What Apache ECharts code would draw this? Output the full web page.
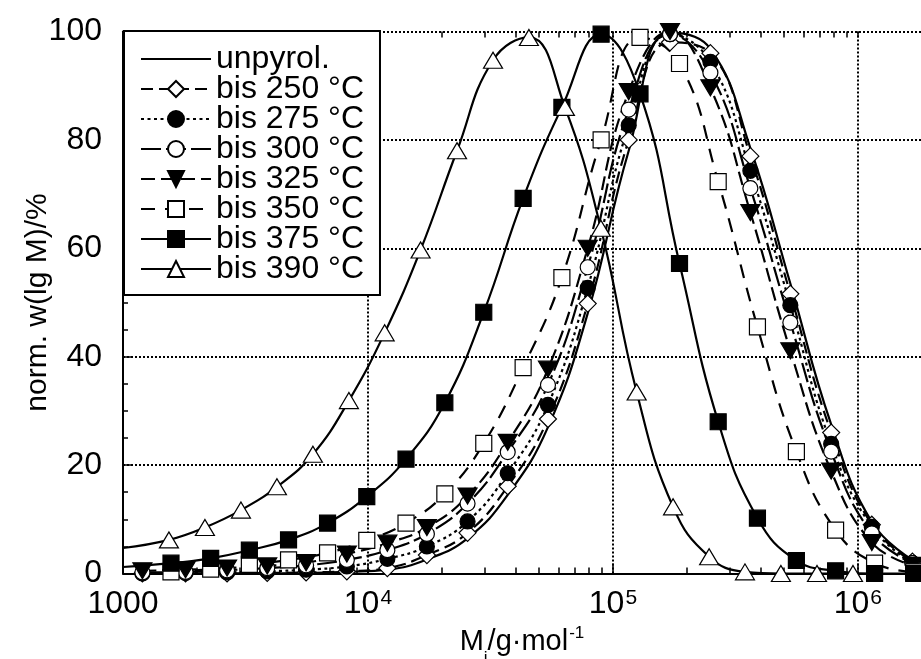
<!DOCTYPE html>
<html>
<head>
<meta charset="utf-8">
<script src="https://cdn.jsdelivr.net/npm/echarts@6/dist/echarts.min.js"></script>
<style>
  html, body { margin: 0; padding: 0; background: #fff; }
  #chart { width: 921px; height: 659px; }
</style>
</head>
<body>
<div id="chart"></div>
<script>
// Molar masses (g/mol) at which each distribution was sampled
const massGridA = [1540, 2160, 3030, 4250, 5960, 8360, 11700, 16400, 23100, 32400, 45400, 63700, 89300, 125000, 176000, 247000, 346000, 485000, 681000, 955000];
const massGridB = [1570, 2280, 3280, 4740, 6840, 9890, 14300, 20600, 29700, 43000, 61900, 89500, 129000, 187000, 269000, 389000, 561000, 811000, 1170000, 1690000];
const massGridC = [1200, 1800, 2660, 3880, 5590, 8200, 12000, 17400, 25500, 37200, 54300, 78900, 116000, 171000, 250000, 364000, 530000, 778000, 1140000, 1670000];

// Normalised distributions w(lg M) in %
const wUnpyrol = [0, 0, 0, 0, 0.1, 0.3, 0.7, 2.6, 6.5, 14.5, 27.0, 48.0, 78.0, 99.8, 96.8, 78.5, 53.5, 27.5, 9.5, 2.5];
const w250 = [0, 0, 0, 0.1, 0.2, 0.4, 1.0, 3.4, 7.5, 16.1, 28.5, 49.8, 80.0, 98.0, 96.0, 77.0, 51.6, 26.0, 9.0, 2.2];
const w275 = [0, 0.1, 0.2, 0.4, 0.7, 1.3, 2.7, 5.0, 9.6, 18.5, 31.1, 52.7, 82.7, 99.5, 94.4, 74.3, 49.5, 23.9, 8.6, 1.9];
const w300 = [0.2, 0.3, 0.6, 1.0, 1.5, 2.5, 4.3, 7.3, 12.9, 22.4, 34.8, 56.5, 85.6, 99.5, 92.4, 71.1, 46.3, 22.5, 7.4, 1.9];
const w325 = [0.5, 0.7, 1.0, 1.4, 2.0, 3.6, 5.6, 8.5, 14.3, 24.2, 37.7, 60.0, 88.9, 100, 89.6, 66.6, 41.1, 18.9, 5.7, 1.5];
const w350 = [0.3, 0.8, 1.7, 2.5, 3.8, 6.1, 9.3, 14.7, 24.0, 38.0, 54.6, 80.0, 98.9, 94.1, 72.3, 45.5, 22.5, 8.0, 1.9, 0.3];
const w375 = [1.9, 2.8, 4.3, 6.2, 9.3, 14.2, 21.1, 31.5, 48.2, 69.2, 86.0, 99.5, 88.5, 57.2, 28.0, 10.2, 2.4, 0.5, 0, 0];
const w390 = [6.2, 8.5, 11.7, 16.0, 22.0, 31.9, 44.4, 59.7, 78.0, 94.7, 98.9, 86.0, 63.7, 33.5, 12.3, 3.1, 0.3, 0, 0, 0];

// Where the fitted curves of the two most degraded samples meet the M = 1000 edge
const curveStart375 = [1000, 1.2];
const curveStart390 = [1000, 4.7];

const seriesNames = ['unpyrol.', 'bis 250 °C', 'bis 275 °C', 'bis 300 °C', 'bis 325 °C', 'bis 350 °C', 'bis 375 °C', 'bis 390 °C'];

const M_MIN = 1000;
const M_MAX = 1.81e6;
const LOG_MIN = Math.log10(M_MIN);
const LOG_MAX = Math.log10(M_MAX);

const FONT = "'Liberation Sans', Arial, Helvetica, sans-serif";
const INK = '#000';

// minor tick positions of the log axis (2..9 x 10^n), expressed in lg M
const minorTickLogs = [];
for (let d = 3; d <= 6; d++) {
  for (let k = 2; k <= 9; k++) {
    const v = Math.log10(k * Math.pow(10, d));
    if (v < LOG_MAX) minorTickLogs.push(v);
  }
}
const majorTickLogs = [3, 4, 5, 6];

function pairs(masses, values) {
  return masses.map((m, i) => [m, values[i]]);
}

function sample(name, data, marker, lineType) {
  const hidden = marker.symbol === 'none';
  return {
    type: 'line',
    name: name,
    data: data,
    smooth: 0.45,
    showSymbol: !hidden,
    symbol: hidden ? 'circle' : marker.symbol,
    symbolSize: marker.size,
    symbolRotate: marker.rotate || 0,
    lineStyle: { color: INK, width: 2.2, type: lineType },
    itemStyle: hidden
      ? { color: 'rgba(0,0,0,0)', borderColor: 'rgba(0,0,0,0)', borderWidth: 0 }
      : { color: marker.fill, borderColor: INK, borderWidth: 1.2 },
    emphasis: { disabled: true },
    z: 2
  };
}

const series = [
  sample(seriesNames[0], pairs(massGridC, wUnpyrol), { symbol: 'none', size: 0 }, 'solid'),
  sample(seriesNames[1], pairs(massGridC, w250), { symbol: 'diamond', size: [17, 17], fill: '#fff' }, [12, 6]),
  sample(seriesNames[2], pairs(massGridC, w275), { symbol: 'circle', size: 15, fill: INK }, [3, 3.5]),
  sample(seriesNames[3], pairs(massGridC, w300), { symbol: 'circle', size: 15, fill: '#fff' }, [20, 5]),
  sample(seriesNames[4], pairs(massGridC, w325), { symbol: 'triangle', size: [19, 16], rotate: 180, fill: INK }, [14, 6]),
  sample(seriesNames[5], pairs(massGridB, w350), { symbol: 'rect', size: 16, fill: '#fff' }, [14, 10]),
  sample(seriesNames[6], [{ value: curveStart375, symbol: 'none' }].concat(pairs(massGridB, w375)), { symbol: 'rect', size: 16, fill: INK }, 'solid'),
  sample(seriesNames[7], [{ value: curveStart390, symbol: 'none' }].concat(pairs(massGridA, w390)), { symbol: 'triangle', size: [19, 16], fill: '#fff' }, 'solid')
];

const dotted = { color: INK, width: 2, type: [2, 2] };

function massLabel(v) {
  const e = Math.round(Math.log10(v));
  if (Math.abs(Math.log10(v) - e) > 1e-6 || e > 6) return '';
  if (e === 3) return '{b|1000}';
  return '{b|10}{s|' + e + '}';
}

const tickRich = {
  b: { fontSize: 32, fontFamily: FONT, color: INK, lineHeight: 34 },
  s: { fontSize: 21, fontFamily: FONT, color: INK, verticalAlign: 'top', lineHeight: 34, padding: [0, 0, 0, 1] }
};

const option = {
  animation: false,
  backgroundColor: '#fff',
  grid: { left: 123, right: 0, top: 31.5, bottom: 85.5, containLabel: false, outerBoundsMode: 'none' },
  legend: {
    orient: 'vertical',
    left: 124,
    top: 31,
    data: seriesNames,
    itemWidth: 70,
    itemHeight: 20,
    itemGap: -2,
    padding: [12, 16, 10, 16],
    backgroundColor: '#fff',
    borderColor: INK,
    borderWidth: 2,
    borderRadius: 0,
    selectedMode: false,
    textStyle: { fontSize: 32, lineHeight: 30, color: INK, fontFamily: FONT },
    z: 10
  },
  xAxis: [
    {
      type: 'log',
      logBase: 10,
      min: M_MIN,
      max: M_MAX,
      position: 'bottom',
      axisLine: { show: true, onZero: false, lineStyle: { color: INK, width: 2 } },
      axisTick: { show: true, inside: true, length: 10, lineStyle: { color: INK, width: 1.5 } },
      axisLabel: { formatter: massLabel, rich: tickRich, margin: 14, color: INK, showMaxLabel: false },
      splitLine: { show: true, showMaxLine: false, lineStyle: dotted },
      name: '{m|M}{i|i}{m|/g·mol}{e|-1}',
      nameLocation: 'middle',
      nameGap: 51,
      nameMoveOverlap: false,
      nameTextStyle: {
        rich: {
          m: { fontSize: 29, fontFamily: FONT, color: INK, lineHeight: 34 },
          i: { fontSize: 17, fontFamily: FONT, color: INK, verticalAlign: 'bottom', lineHeight: 34, padding: [0, 0, -8, 0] },
          e: { fontSize: 17, fontFamily: FONT, color: INK, verticalAlign: 'top', lineHeight: 34, padding: [0, 0, 0, 1] }
        }
      }
    },
    {
      // minor ticks along the bottom edge
      type: 'value', min: LOG_MIN, max: LOG_MAX, position: 'bottom',
      axisLine: { show: false, onZero: false },
      axisTick: { show: true, inside: true, length: 6, customValues: minorTickLogs, lineStyle: { color: INK, width: 1.5 } },
      axisLabel: { show: false },
      splitLine: { show: false }
    },
    {
      // ticks along the top edge
      type: 'value', min: LOG_MIN, max: LOG_MAX, position: 'top',
      axisLine: { show: false, onZero: false },
      axisTick: { show: true, inside: true, length: 6, customValues: minorTickLogs.concat(majorTickLogs), lineStyle: { color: INK, width: 1.5 } },
      axisLabel: { show: false },
      splitLine: { show: false }
    }
  ],
  yAxis: {
    type: 'value',
    min: 0,
    max: 100,
    interval: 20,
    axisLine: { show: true, onZero: false, lineStyle: { color: INK, width: 2 } },
    axisTick: { show: true, inside: true, length: 8, lineStyle: { color: INK, width: 1.5 } },
    minorTick: { show: true, splitNumber: 4, length: 5, lineStyle: { color: INK, width: 1.5 } },
    axisLabel: { fontSize: 32, color: INK, fontFamily: FONT, margin: 21 },
    splitLine: { show: true, lineStyle: dotted },
    name: 'norm. w(lg M)/%',
    nameLocation: 'middle',
    nameGap: 70,
    nameMoveOverlap: false,
    nameTextStyle: { fontSize: 30, color: INK, fontFamily: FONT }
  },
  series: series
};

const chart = echarts.init(document.getElementById('chart'), null, { renderer: 'canvas' });
chart.setOption(option);
</script>
</body>
</html>
